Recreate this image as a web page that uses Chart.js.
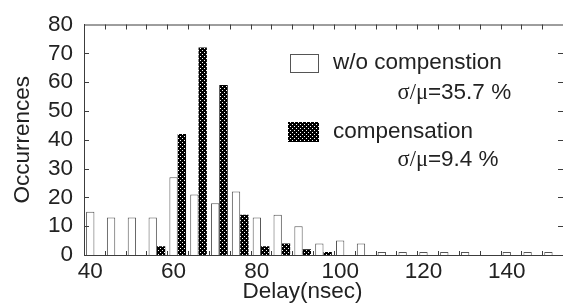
<!DOCTYPE html>
<html>
<head>
<meta charset="utf-8">
<script src="https://cdn.jsdelivr.net/npm/chart.js@4.4.0/dist/chart.umd.min.js"></script>
<style>
  html, body { margin: 0; padding: 0; background: #fff; }
  #wrap { width: 563px; height: 307px; }
</style>
</head>
<body>
<div id="wrap"><canvas id="mainChart"></canvas></div>
<script>
// histogram bins (nsec) and counts
const bins = [40, 45, 50, 55, 60, 65, 70, 75, 80, 85, 90, 95, 100, 105, 110, 115, 120, 125, 130, 135, 140, 145, 150];
const withoutComp = [15, 13, 13, 13, 27, 21, 18, 22, 13, 14, 10, 4, 5, 4, 1, 1, 1, 1, 1, 0, 1, 1, 1];
const withComp = [0, 0, 0, 3, 42, 72, 59, 14, 3, 4, 2, 1, 0, 0, 0, 0, 0, 0, 0, 0, 0, 0, 0];
const seriesNames = ['w/o compenstion', 'compensation'];
const sigmaMu = ['35.7 %', '9.4 %'];

const FONT = 'Liberation Sans, Arial, sans-serif';
const SIZE = 22.5;
const textColor = '#222';
const axisColor = '#3c3c3c';

// dotted black fill like the print screen
function dotPattern() {
    const c = document.createElement('canvas');
    c.width = 4; c.height = 4;
    const g = c.getContext('2d');
    g.fillStyle = '#000';
    g.fillRect(0, 0, 4, 4);
    g.fillStyle = '#fff';
    g.fillRect(0, 0, 1, 1);
    g.fillRect(2, 2, 1, 1);
    return g.createPattern(c, 'repeat');
}
const blackFill = dotPattern();

// bars are drawn in pairs: white on the bin, black just right of it
const pairShift = 1;

const frame = {
    id: 'frame',
    afterDatasetsDraw(chart) {
        const { ctx, chartArea: a, scales: { x, y } } = chart;
        ctx.save();
        ctx.strokeStyle = axisColor;
        ctx.lineWidth = 1;
        ctx.beginPath();
        ctx.moveTo(a.left, a.top + 0.5);
        ctx.lineTo(a.right, a.top + 0.5);
        bins.forEach(b => {
            const v = b + 3.5;
            if (v >= x.max) return;
            const px = Math.round(x.getPixelForValue(v)) + 0.5;
            ctx.moveTo(px, a.top); ctx.lineTo(px, a.top + 5);
            ctx.moveTo(px, a.bottom); ctx.lineTo(px, a.bottom - 4);
        });
        for (let v = 10; v < y.max; v += 10) {
            const py = Math.round(y.getPixelForValue(v)) + 0.5;
            ctx.moveTo(a.left, py); ctx.lineTo(a.left + 5, py);
            ctx.moveTo(a.right, py); ctx.lineTo(a.right - 5, py);
        }
        ctx.stroke();

        // legend
        ctx.fillStyle = '#fff';
        ctx.fillRect(290.5, 54.5, 28, 18);
        ctx.strokeStyle = '#555';
        ctx.strokeRect(290.5, 54.5, 28, 18);
        ctx.fillStyle = blackFill;
        ctx.fillRect(288, 122, 31, 20);

        ctx.fillStyle = textColor;
        ctx.textBaseline = 'middle';
        ctx.textAlign = 'left';
        ctx.font = `${SIZE}px ${FONT}`;
        ctx.fillText(seriesNames[0], 333, 63);
        ctx.fillText(seriesNames[1], 333, 132);
        [[93, sigmaMu[0]], [160, sigmaMu[1]]].forEach(([ty, val]) => {
            ctx.font = `${SIZE}px Liberation Serif, Times New Roman, serif`;
            ctx.fillText('σ/μ', 397.5, ty);
            const w = ctx.measureText('σ/μ').width;
            ctx.font = `${SIZE}px ${FONT}`;
            ctx.fillText('=' + val, 397.5 + w, ty);
        });

        // x title
        ctx.textAlign = 'center';
        ctx.fillText('Delay(nsec)', 302.5, 292);
        ctx.restore();
    }
};

new Chart(document.getElementById('mainChart'), {
    type: 'bar',
    data: {
        datasets: [{
            label: seriesNames[0],
            data: bins.map((b, i) => ({ x: b + pairShift, y: withoutComp[i] })),
            backgroundColor: '#fff',
            borderColor: '#555',
            borderWidth: 1,
            borderSkipped: 'bottom'
        }, {
            label: seriesNames[1],
            data: bins.map((b, i) => ({ x: b + pairShift, y: withComp[i] })),
            backgroundColor: blackFill,
            borderWidth: 0
        }]
    },
    options: {
        responsive: true,
        maintainAspectRatio: false,
        animation: false,
        categoryPercentage: 0.8,
        barPercentage: 1,
        layout: { padding: { top: 15, right: 0, left: 0, bottom: 0 } },
        plugins: { legend: { display: false }, tooltip: { enabled: false } },
        scales: {
            x: {
                type: 'linear',
                min: 38.5,
                max: 153.5,
                offset: false,
                afterFit: s => { s.height = 52; },
                grid: { display: false, drawTicks: false },
                border: { display: true, color: axisColor, width: 1 },
                ticks: {
                    stepSize: 20,
                    includeBounds: false,
                    autoSkip: false,
                    padding: 3,
                    maxRotation: 0,
                    color: textColor,
                    font: { family: FONT, size: SIZE }
                }
            },
            y: {
                min: 0,
                max: 80,
                afterFit: s => { s.width = 84; },
                grid: { display: false, drawTicks: false },
                border: { display: true, color: axisColor, width: 1 },
                ticks: {
                    stepSize: 10,
                    autoSkip: false,
                    padding: 11,
                    color: textColor,
                    font: { family: FONT, size: SIZE }
                },
                title: {
                    display: true,
                    text: 'Occurrences',
                    color: textColor,
                    font: { family: FONT, size: SIZE },
                    padding: { top: 9, bottom: 0 }
                }
            }
        }
    },
    plugins: [frame]
});
</script>
</body>
</html>
